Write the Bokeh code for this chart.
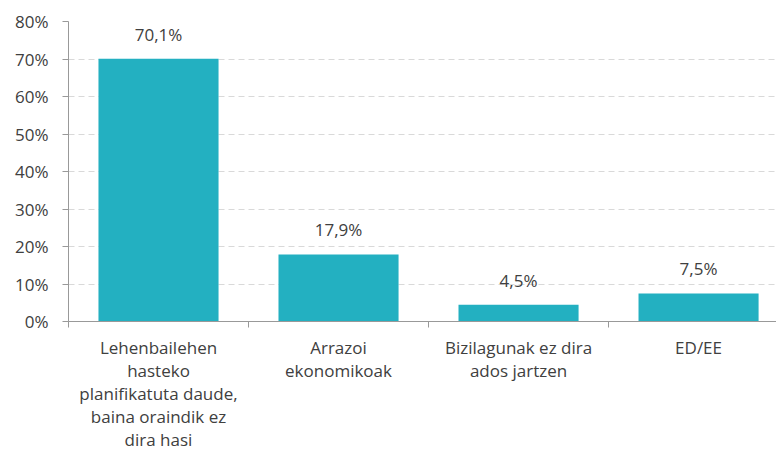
from bokeh.plotting import figure
from bokeh.models import ColumnDataSource, FixedTicker, LinearAxis, PrintfTickFormatter, Range1d
from bokeh.core.properties import value
from bokeh.embed import file_html
from bokeh.resources import INLINE

categories = [
    "Lehenbailehen\nhasteko\nplanifikatuta daude,\nbaina oraindik ez\ndira hasi",
    "Arrazoi\nekonomikoak",
    "Bizilagunak ez dira\nados jartzen",
    "ED/EE",
]
values = [70.1, 17.9, 4.5, 7.5]
y_ticks = [0, 10, 20, 30, 40, 50, 60, 70, 80]

FONT = "Open Sans"
TXT = "#404040"
BAR = "#23B0C1"

centers = [i + 0.5 for i in range(len(categories))]
labels = [("%.1f" % v).replace(".", ",") + "%" for v in values]
src = ColumnDataSource(dict(x=centers, top=values, lab=labels))

p = figure(width=776, height=455, output_backend="svg", toolbar_location=None,
           x_range=Range1d(0, 3.933), y_range=Range1d(0, 80),
           min_border_left=68, min_border_right=0, min_border_top=21, min_border_bottom=134)
p.outline_line_color = None
p.background_fill_color = "white"

p.vbar(x="x", top="top", width=0.667, bottom=0, source=src, color=BAR, line_color=None)
p.text(x="x", y="top", text="lab", source=src, text_align="center", text_baseline="bottom",
       y_offset=-13, text_font=value(FONT), text_font_size="17px", text_color=TXT)

# grid
p.xgrid.grid_line_color = None
p.ygrid.ticker = FixedTicker(ticks=y_ticks)
p.ygrid.grid_line_color = "#D9D9D9"
p.ygrid.grid_line_dash = "6 4"
p.ygrid.grid_line_width = 1

# y axis
ya = p.yaxis[0]
ya.ticker = FixedTicker(ticks=y_ticks)
ya.formatter = PrintfTickFormatter(format="%d%%")
ya.axis_line_color = "#999999"
ya.major_tick_line_color = "#999999"
ya.major_tick_out = 6
ya.major_tick_in = 0
ya.minor_tick_line_color = None
ya.major_label_standoff = 14
ya.major_label_text_font = FONT
ya.major_label_text_font_size = "17px"
ya.major_label_text_color = TXT

# x axis: ticks at category boundaries
bounds = list(range(len(categories) + 1))
xa = p.xaxis[0]
xa.ticker = FixedTicker(ticks=bounds)
xa.major_label_overrides = {b: "" for b in bounds}
xa.axis_line_color = "#999999"
xa.major_tick_line_color = "#999999"
xa.major_tick_out = 6
xa.major_tick_in = 0
xa.minor_tick_line_color = None
xa.major_label_standoff = 0

# x axis: category labels
la = LinearAxis(ticker=FixedTicker(ticks=centers),
                major_label_overrides={c: t for c, t in zip(centers, categories)})
la.axis_line_color = None
la.major_tick_line_color = None
la.minor_tick_line_color = None
la.major_label_standoff = 2
la.major_label_text_font = FONT
la.major_label_text_font_size = "17px"
la.major_label_text_line_height = 1.0
la.major_label_text_color = TXT
p.add_layout(la, "below")

open("out.html", "w").write(file_html(p, INLINE))
